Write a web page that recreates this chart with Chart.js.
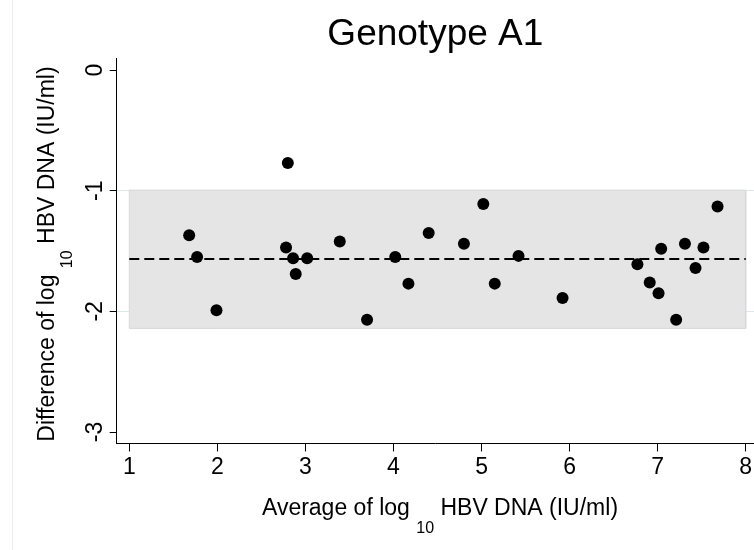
<!DOCTYPE html>
<html>
<head>
<meta charset="utf-8">
<script src="https://cdn.jsdelivr.net/npm/chart.js@4.4.1/dist/chart.umd.min.js"></script>
<style>
  body { margin: 0; background: #fff; }
  #wrap { position: relative; width: 754px; height: 550px; }
  #edge { position: absolute; left: 12px; top: 0; width: 1px; height: 550px; background: #ececec; }
  canvas { position: absolute; left: 0; top: 0; }
</style>
</head>
<body>
<div id="wrap">
  <div id="edge"></div>
  <canvas id="bland" width="754" height="550"></canvas>
</div>
<script>
// Bland-Altman data
const avgLog = [1.68, 1.77, 1.99, 2.80, 2.78, 2.86, 2.89, 3.02, 3.39, 3.70, 4.02, 4.17, 4.40,
  4.80, 5.02, 5.15, 5.42, 5.92, 6.77, 6.91, 7.01, 7.04, 7.21, 7.31, 7.43, 7.52, 7.68];
const diffLog = [-1.37, -1.55, -1.99, -0.77, -1.47, -1.56, -1.69, -1.56, -1.42, -2.07, -1.55, -1.77, -1.35,
  -1.44, -1.11, -1.77, -1.54, -1.89, -1.61, -1.76, -1.85, -1.48, -2.07, -1.44, -1.64, -1.47, -1.13];

const meanDiff = -1.566;
const upperLimit = -0.995;
const lowerLimit = -2.141;
const bandRange = [1, 8];

const xTicks = [1, 2, 3, 4, 5, 6, 7, 8];
const yTicks = [0, -1, -2, -3];
const gridAt = [-1, -2];

const FONT = '"Liberation Sans", Arial, Helvetica, sans-serif';

// Points
const points = avgLog.map((x, i) => ({ x: x, y: diffLog[i] }));

// shaded limits-of-agreement band
const band = [
  { x: bandRange[0], y: upperLimit },
  { x: bandRange[1], y: upperLimit },
  { x: bandRange[1], y: lowerLimit },
  { x: bandRange[0], y: lowerLimit },
  { x: bandRange[0], y: upperLimit }
];

// axis titles with subscript 10
function drawSubTitle(ctx, parts, x, y, rotate) {
  ctx.save();
  ctx.translate(x, y);
  if (rotate) ctx.rotate(-Math.PI / 2);
  ctx.fillStyle = '#000';
  ctx.textBaseline = 'alphabetic';
  ctx.textAlign = 'left';
  let total = 0;
  parts.forEach(p => {
    ctx.font = p.size + 'px ' + FONT;
    total += ctx.measureText(p.text).width;
  });
  let cx = -total / 2;
  parts.forEach(p => {
    ctx.font = p.size + 'px ' + FONT;
    ctx.fillText(p.text, cx, p.dy || 0);
    cx += ctx.measureText(p.text).width;
  });
  ctx.restore();
}

const axisTitles = {
  id: 'axisTitles',
  afterDraw(chart) {
    const ctx = chart.ctx;
    drawSubTitle(ctx, [
      { text: 'Average of log ', size: 23 },
      { text: '10', size: 16, dy: 18 },
      { text: ' HBV DNA (IU/ml)', size: 23 }
    ], 440, 515, false);
    drawSubTitle(ctx, [
      { text: 'Difference of log ', size: 23 },
      { text: '10', size: 16, dy: 18 },
      { text: ' HBV DNA (IU/ml)', size: 23 }
    ], 54, 254, true);
  }
};

const ctx = document.getElementById('bland').getContext('2d');
const chart = new Chart(ctx, {
  type: 'scatter',
  data: {
    datasets: [
      {
        label: 'Difference',
        data: points,
        backgroundColor: '#000',
        borderWidth: 0,
        pointRadius: 6,
        order: 0
      },
      {
        label: 'Mean',
        data: [{ x: bandRange[0], y: meanDiff }, { x: bandRange[1], y: meanDiff }],
        showLine: true,
        borderColor: '#000',
        borderWidth: 2,
        borderDash: [10, 5],
        pointRadius: 0,
        order: 1
      },
      {
        label: 'Limits',
        data: band,
        showLine: true,
        fill: 'shape',
        backgroundColor: '#e5e5e5',
        borderColor: '#d8d8d8',
        borderWidth: 1,
        pointRadius: 0,
        order: 2
      }
    ]
  },
  options: {
    responsive: false,
    animation: false,
    layout: { padding: 0, autoPadding: false },
    plugins: {
      legend: { display: false },
      tooltip: { enabled: false },
      title: {
        display: true,
        text: 'Genotype A1',
        fullSize: false,
        color: '#000',
        font: { family: FONT, size: 37, weight: 'normal', lineHeight: 1 },
        padding: { top: 16.5, bottom: 4.5 }
      }
    },
    scales: {
      x: {
        type: 'linear',
        min: 0.857,
        max: 8.094,
        afterBuildTicks: s => { s.ticks = xTicks.map(v => ({ value: v })); },
        afterFit: s => { s.height = 106.5; s.paddingLeft = 0; s.paddingRight = 0; },
        ticks: {
          color: '#000',
          padding: 2,
          font: { family: FONT, size: 23, lineHeight: 1.2 }
        },
        grid: { drawOnChartArea: false, tickLength: 8, tickColor: '#000' },
        border: { color: '#000', width: 1 }
      },
      y: {
        type: 'linear',
        min: -3.095,
        max: 0.1,
        afterBuildTicks: s => { s.ticks = yTicks.map(v => ({ value: v })); },
        afterFit: s => { s.width = 116.7; s.paddingTop = 0; s.paddingBottom = 0; },
        ticks: {
          color: '#000',
          padding: 3.5,
          minRotation: 90,
          maxRotation: 90,
          crossAlign: 'center',
          font: { family: FONT, size: 23, lineHeight: 1.2 }
        },
        grid: {
          color: c => gridAt.includes(c.tick.value) ? '#dbe8ee' : 'rgba(0,0,0,0)',
          tickLength: 7,
          tickColor: '#000',
          lineWidth: 1
        },
        border: { color: '#000', width: 1 }
      }
    }
  },
  plugins: [axisTitles]
});
</script>
</body>
</html>
